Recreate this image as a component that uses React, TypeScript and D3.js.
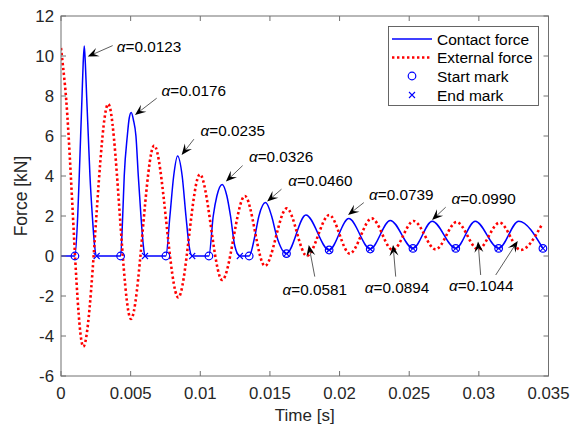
import React from "react";
import * as d3 from "d3";

// contact force, time in ms and force in kN
const contactTime = [
  0, 1.0, 1.2, 1.31, 1.41, 1.51, 1.59, 1.67, 1.75, 1.84, 1.96, 2.08, 2.25, 2.4, 2.56,
  4.28, 4.43, 4.54, 4.76, 4.9, 5.04, 5.2, 5.38, 5.55, 5.74, 5.9, 6.03,
  7.53, 7.82, 8.09, 8.37, 8.7, 8.97, 9.2, 9.42,
  10.62, 10.93, 11.19, 11.57, 11.91, 12.17, 12.48, 12.84,
  13.51, 13.92, 14.21, 14.69, 15.12, 15.48, 16.19,
  17.58, 19.25, 20.66, 22.2, 23.64, 25.27, 26.65, 28.34, 29.74, 31.42, 32.86, 34.6,
];
const contactForce = [
  0, 0, 2.0, 4.0, 6.0, 8.0, 9.6, 10.5, 9.6, 8.0, 6.0, 4.0, 2.0, 0.6, 0,
  0, 2.0, 4.0, 6.0, 6.9, 7.17, 6.8, 6.0, 4.0, 2.0, 0.6, 0,
  0, 2.0, 4.0, 5.0, 4.0, 2.0, 0.5, 0,
  0, 2.0, 3.0, 3.58, 3.0, 2.0, 0.5, 0,
  0, 1.0, 2.0, 2.67, 2.0, 1.0, 0.12,
  2.05, 0.3, 1.87, 0.35, 1.78, 0.38, 1.74, 0.38, 1.74, 0.38, 1.74, 0.38,
];

// external force
const externalTime = [
  0, 0.29, 1.6, 3.39, 5.02, 6.69, 8.42, 9.97, 11.57, 13.2, 14.64, 16.21, 17.65,
  19.26, 20.73, 22.31, 23.82, 25.32, 26.9, 28.41, 29.95, 31.49, 33.0, 34.51,
];
const externalForce = [
  10.4, 8.5, -4.53, 7.6, -3.15, 5.52, -2.07, 4.08, -1.2, 3.0, -0.5, 2.38, 0.0,
  2.05, 0.12, 1.88, 0.3, 1.75, 0.33, 1.7, 0.33, 1.67, 0.3, 1.55,
];

const startTime = [1.0, 4.28, 7.53, 10.62, 13.51, 16.19, 19.25, 22.2, 25.27, 28.34, 31.42, 34.6];
const startForce = [0, 0, 0, 0, 0, 0.12, 0.3, 0.35, 0.38, 0.38, 0.38, 0.38];
const endTime = [2.56, 6.03, 9.42, 12.84, 16.19, 19.25, 22.2, 25.27, 28.34, 31.42, 34.6];
const endForce = [0, 0, 0, 0, 0.12, 0.3, 0.35, 0.38, 0.38, 0.38, 0.38];

const xTicks = [0, 0.005, 0.01, 0.015, 0.02, 0.025, 0.03, 0.035];
const xTickLabels = ["0", "0.005", "0.01", "0.015", "0.02", "0.025", "0.03", "0.035"];
const yTicks = [-6, -4, -2, 0, 2, 4, 6, 8, 10, 12];

const legendNames = ["Contact force", "External force", "Start mark", "End mark"];

// alpha annotations: text start (ms, kN)
const alphaLabels = ["0.0123", "0.0176", "0.0235", "0.0326", "0.0460", "0.0739", "0.0990", "0.0581", "0.0894", "0.1044"];
const alphaTextAt = [
  [4.0, 10.47], [7.22, 8.27], [10.02, 6.3], [13.49, 5.0], [16.31, 3.8],
  [22.12, 3.1], [28.03, 2.89], [15.91, -1.67], [21.81, -1.57], [27.86, -1.45],
];
// arrows: tip (ms, kN) then tail (ms, kN)
const alphaArrows = [
  [1.92, 9.97, 3.71, 10.52],
  [5.31, 7.05, 6.87, 7.89],
  [8.66, 5.05, 9.54, 5.84],
  [11.84, 3.72, 13.04, 4.52],
  [14.8, 2.72, 15.83, 3.34],
  [20.61, 2.05, 21.74, 2.67],
  [26.64, 1.8, 27.62, 2.44],
  [17.79, 0.55, 18.22, -1.03],
  [23.84, 0.55, 24.03, -1.03],
  [29.94, 0.73, 30.13, -0.95],
  [32.79, 0.75, 31.21, -0.95],
];

const left = 61, right = 548.5, top = 16, bottom = 376;
const font = "'Liberation Sans', Arial, sans-serif";
const axisColor = "#707070";
const textColor = "#262626";

function Arrow({ x1, y1, x2, y2 }: { x1: number; y1: number; x2: number; y2: number }) {
  // tip at (x1,y1), tail at (x2,y2)
  const ang = Math.atan2(y1 - y2, x1 - x2);
  const L = 11, Wd = 9;
  const head = `M0,0 L${-L},${-Wd / 2} L${-L * 0.6},0 L${-L},${Wd / 2} Z`;
  return (
    <g>
      <line x1={x2} y1={y2} x2={x1 - Math.cos(ang) * L * 0.6} y2={y1 - Math.sin(ang) * L * 0.6} stroke="#333" strokeWidth={0.8} />
      <path d={head} fill="#000" transform={`translate(${x1},${y1}) rotate(${(ang * 180) / Math.PI})`} />
    </g>
  );
}

export default function App() {
  const x = d3.scaleLinear().domain([0, 0.035]).range([left, right]);
  const y = d3.scaleLinear().domain([-6, 12]).range([bottom, top]);
  const xs = (ms: number) => x(ms / 1000);

  const contactLine = d3
    .line<number>()
    .x((_, i) => xs(contactTime[i]))
    .y((d) => y(d))
    .curve(d3.curveMonotoneX)(contactForce);
  const externalLine = d3
    .line<number>()
    .x((_, i) => xs(externalTime[i]))
    .y((d) => y(d))
    .curve(d3.curveMonotoneX)(externalForce);

  const cross = (cx: number, cy: number, k: string) => (
    <path key={k} d={`M${cx - 3},${cy - 3}L${cx + 3},${cy + 3}M${cx - 3},${cy + 3}L${cx + 3},${cy - 3}`} stroke="#0000ff" strokeWidth={1.1} fill="none" />
  );

  const lgX = 388.5, lgY = 26.5;
  const rowY = [39, 57.5, 76, 95];

  return (
    <svg width={583} height={426} style={{ position: "absolute", left: 0, top: 0, background: "#fff" }} fontFamily={font}>
      <rect x={0} y={0} width={583} height={426} fill="#fff" />
      <defs>
        <clipPath id="plot">
          <rect x={left} y={top} width={right - left} height={bottom - top} />
        </clipPath>
      </defs>

      <g clipPath="url(#plot)">
        <path d={contactLine || ""} fill="none" stroke="#0000ff" strokeWidth={1.5} />
        <path d={externalLine || ""} fill="none" stroke="#ff0000" strokeWidth={2.6} strokeDasharray="2.4 2.6" />
        {startTime.map((t, i) => (
          <circle key={"s" + i} cx={xs(t)} cy={y(startForce[i])} r={3.8} fill="none" stroke="#0000ff" strokeWidth={1.2} />
        ))}
        {endTime.map((t, i) => cross(xs(t), y(endForce[i]), "e" + i))}
      </g>

      {/* axes box and ticks */}
      <rect x={left} y={top} width={right - left} height={bottom - top} fill="none" stroke={axisColor} strokeWidth={1} />
      {xTicks.map((t, i) => (
        <g key={"xt" + i}>
          <line x1={x(t)} x2={x(t)} y1={bottom} y2={bottom - 5} stroke={axisColor} />
          <line x1={x(t)} x2={x(t)} y1={top} y2={top + 5} stroke={axisColor} />
          <text x={x(t)} y={399} textAnchor="middle" fontSize={16.8} fill={textColor}>
            {xTickLabels[i]}
          </text>
        </g>
      ))}
      {yTicks.map((t, i) => (
        <g key={"yt" + i}>
          <line x1={left} x2={left + 5} y1={y(t)} y2={y(t)} stroke={axisColor} />
          <line x1={right} x2={right - 5} y1={y(t)} y2={y(t)} stroke={axisColor} />
          <text x={54} y={y(t)} dy="0.36em" textAnchor="end" fontSize={16.8} fill={textColor}>
            {t}
          </text>
        </g>
      ))}
      <text x={(left + right) / 2} y={421} textAnchor="middle" fontSize={17} fill={textColor}>
        Time [s]
      </text>
      <text transform={`translate(27,196) rotate(-90)`} textAnchor="middle" fontSize={17.5} fill={textColor}>
        Force [kN]
      </text>

      {/* annotations */}
      {alphaArrows.map((a, i) => (
        <Arrow key={"a" + i} x1={xs(a[0])} y1={y(a[1])} x2={xs(a[2])} y2={y(a[3])} />
      ))}
      {alphaLabels.map((s, i) => (
        <text key={"l" + i} x={xs(alphaTextAt[i][0])} y={y(alphaTextAt[i][1])} dy="0.36em" fontSize={15.3} fill="#000">
          <tspan fontStyle="italic">α</tspan>={s}
        </text>
      ))}

      {/* legend */}
      <rect x={lgX} y={lgY} width={150} height={79} fill="#fff" stroke="#555" strokeWidth={0.9} />
      <line x1={392} x2={432} y1={rowY[0]} y2={rowY[0]} stroke="#0000ff" strokeWidth={1.5} />
      <line x1={392} x2={432} y1={rowY[1]} y2={rowY[1]} stroke="#ff0000" strokeWidth={2.6} strokeDasharray="2.4 2.6" />
      <circle cx={412} cy={rowY[2]} r={3.8} fill="none" stroke="#0000ff" strokeWidth={1.2} />
      {cross(412, rowY[3], "lgx")}
      {legendNames.map((n, i) => (
        <text key={n} x={437} y={rowY[i]} dy="0.36em" fontSize={15.5} fill="#000">
          {n}
        </text>
      ))}
    </svg>
  );
}
